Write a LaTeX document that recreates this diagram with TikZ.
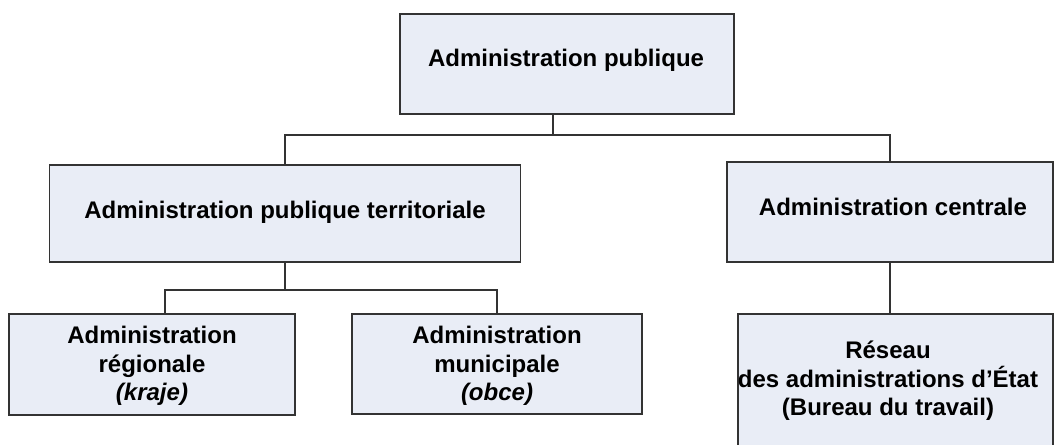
\documentclass[tikz,border=0pt]{standalone}
\usepackage{fontspec}
\setmainfont{Liberation Sans}
\usepackage{xcolor}
\definecolor{boxfill}{RGB}{233,237,246}
\definecolor{boxline}{RGB}{51,51,51}

\begin{document}
\begin{tikzpicture}[x=0.75pt,y=0.75pt,yscale=-1,xscale=1,
  orgbox/.style={draw=boxline, fill=boxfill, line width=1pt, inner sep=0pt},
  orgtext/.style={font=\bfseries\fontsize{18}{21.5}\selectfont, align=center, inner sep=0pt},
  link/.style={draw=boxline, line width=1pt}]
\useasboundingbox (0,0) rectangle (1054,444);
\clip (0,0) rectangle (1054,444);

%Boxes
\node [orgbox, minimum width=250.5pt, minimum height=75pt] (pub) at (567,64) {};
\node [orgbox, minimum width=353.25pt, minimum height=72.75pt] (terr) at (285,213.5) {};
\node [orgbox, minimum width=244.5pt, minimum height=75pt] (centr) at (890,212) {};
\node [orgbox, minimum width=214.5pt, minimum height=75.75pt] (reg) at (152,364.5) {};
\node [orgbox, minimum width=217.5pt, minimum height=75pt] (mun) at (497,364) {};
\node [orgbox, minimum width=236.25pt, minimum height=120pt] (res) at (895.5,394) {};

%Junctions
\coordinate (j1) at (553,135);
\coordinate (j2) at (285,290);

%Straight Lines
\draw [link] (pub.south -| j1) -- (j1);
\draw [link] (terr.north) |- (j1) -| (centr.north);
\draw [link] (terr.south) -- (j2);
\draw [link] ([xshift=9.75pt]reg.north) |- (j2) -| (mun.north);
\draw [link] (centr.south) -- (centr.south |- res.north);

% Text Node
\node [orgtext] (pubtxt) at (566,60.5) {Administration publique};
% Text Node
\node [orgtext] (terrtxt) at (285,212) {Administration publique territoriale};
% Text Node
\node [orgtext] (centrtxt) at (893,207) {Administration centrale};
% Text Node
\node [orgtext] (regtxt) at (152,366) {Administration\\régionale\\\textit{(kraje)}};
% Text Node
\node [orgtext] (muntxt) at (497,366) {Administration\\municipale\\\textit{(obce)}};
% Text Node
\node [orgtext] (restxt) at (888,381) {Réseau\\des administrations d’État\\(Bureau du travail)};

\end{tikzpicture}
\end{document}
